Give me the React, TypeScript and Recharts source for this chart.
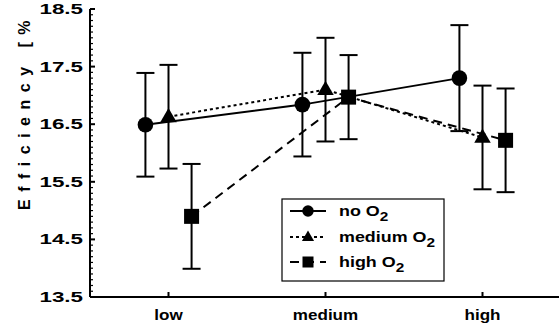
import React from 'react';
import { ComposedChart, Line, XAxis, YAxis, ErrorBar } from 'recharts';

const categories = ['low', 'medium', 'high'];
const noO2 = [16.49, 16.84, 17.3];
const noO2Err = [0.9, 0.9, 0.92];
const mediumO2 = [16.63, 17.1, 16.27];
const mediumO2Err = [0.9, 0.9, 0.9];
const highO2 = [14.9, 16.97, 16.22];
const highO2Err = [0.91, 0.73, 0.9];
const yTickLabels = [13.5, 14.5, 15.5, 16.5, 17.5, 18.5];
const yMinorTicks = Array.from({ length: 51 }, (_, i) => Math.round((13.5 + i * 0.1) * 10) / 10);
const xTicks = [1, 2, 3];
const yAxisTitle = 'Efficiency [%';

type Shape = 'circle' | 'triangle' | 'square';

const series = [
  { prefix: 'no', values: noO2, errs: noO2Err, offset: -0.147, dash: undefined as string | undefined, shape: 'circle' as Shape },
  { prefix: 'medium', values: mediumO2, errs: mediumO2Err, offset: 0, dash: '3 3', shape: 'triangle' as Shape },
  { prefix: 'high', values: highO2, errs: highO2Err, offset: 0.147, dash: '9 6', shape: 'square' as Shape },
];

const FONT = '"Liberation Sans", Arial, sans-serif';

function Marker({ cx, cy, shape, s }: { cx: number; cy: number; shape: Shape; s: number }) {
  if (cx == null || cy == null) return null;
  if (shape === 'circle') return <circle cx={cx} cy={cy} r={s * 0.52} fill="#000" />;
  if (shape === 'square')
    return <rect x={cx - s / 2} y={cy - s / 2} width={s} height={s} fill="#000" />;
  const h = s * 0.95;
  return (
    <polygon
      points={`${cx},${cy - h * 0.62} ${cx - s * 0.55},${cy + h * 0.38} ${cx + s * 0.55},${cy + h * 0.38}`}
      fill="#000"
    />
  );
}

const LeftTick = (props: any) => {
  const { x, y, payload } = props;
  const v = payload.value;
  const major = yTickLabels.some((t) => Math.abs(t - v) < 1e-6);
  return (
    <g>
      <line x1={x} x2={x + (major ? 5 : 3)} y1={y} y2={y} stroke="#000" strokeWidth={major ? 2 : 1.2} />
      {major && (
        <g transform={`translate(${x - 7},${y + 5}) scale(1.6,1)`}>
          <text x={0} y={0} textAnchor="end" fontFamily={FONT} fontSize={14} fontWeight="bold" fill="#000">
            {v.toFixed(1)}
          </text>
        </g>
      )}
    </g>
  );
};

const RightTick = (props: any) => {
  const { x, y } = props;
  return <line x1={x - 5} x2={x} y1={y} y2={y} stroke="#000" strokeWidth={2} />;
};

const BottomTick = (props: any) => {
  const { x, y, payload } = props;
  const label = categories[payload.value - 1];
  return (
    <g>
      <line x1={x} x2={x} y1={y} y2={y - 5} stroke="#000" strokeWidth={2} />
      <g transform={`translate(${x},${y + 23}) scale(1.22,1)`}>
        <text x={0} y={0} textAnchor="middle" fontFamily={FONT} fontSize={14} fontWeight="bold" fill="#000">
          {label}
        </text>
      </g>
    </g>
  );
};

const TopTick = (props: any) => {
  const { x, y } = props;
  return <line x1={x} x2={x} y1={y} y2={y + 5} stroke="#000" strokeWidth={2} />;
};

function LegendBox() {
  const rows = [13, 39, 64];
  return (
    <svg
      width={164}
      height={84}
      style={{ position: 'absolute', left: 281, top: 198, overflow: 'visible' }}
    >
      <rect x={1} y={1} width={162} height={82} fill="#fff" stroke="#000" strokeWidth={1.2} />
      {series.map((s, i) => (
        <g key={s.prefix}>
          <line x1={9} x2={45} y1={rows[i]} y2={rows[i]} stroke="#000" strokeWidth={2} strokeDasharray={s.dash} />
          <Marker cx={27} cy={rows[i]} shape={s.shape} s={11} />
          <g transform={`translate(58,${rows[i] + 5}) scale(1.28,1)`}>
            <text x={0} y={0} fontFamily={FONT} fontSize={14} fontWeight="bold" fill="#000">
              {s.prefix} O
              <tspan fontSize={12} dy={5}>2</tspan>
            </text>
          </g>
        </g>
      ))}
    </svg>
  );
}

export default function App() {
  return (
    <div
      style={{
        position: 'absolute',
        left: 0,
        top: 0,
        width: 559,
        height: 326,
        overflow: 'hidden',
        background: '#fff',
      }}
    >
      <ComposedChart width={600} height={326} margin={{ top: 9, right: 39, left: 0, bottom: 0 }}>
        <XAxis
          xAxisId="bottom"
          type="number"
          dataKey="x"
          domain={[0.5, 3.5]}
          ticks={xTicks}
          allowDataOverflow
          interval={0}
          tick={<BottomTick />}
          tickLine={false}
          tickSize={0}
          tickMargin={0}
          height={29}
          axisLine={{ stroke: '#000', strokeWidth: 2 }}
        />
        <XAxis
          xAxisId="top"
          orientation="top"
          type="number"
          dataKey="x"
          domain={[0.5, 3.5]}
          ticks={xTicks}
          allowDataOverflow
          interval={0}
          tick={<TopTick />}
          tickLine={false}
          tickSize={0}
          tickMargin={0}
          height={0}
          axisLine={{ stroke: '#000', strokeWidth: 2 }}
        />
        <YAxis
          yAxisId="left"
          type="number"
          domain={[13.5, 18.5]}
          ticks={yMinorTicks}
          interval={0}
          allowDataOverflow
          tick={<LeftTick />}
          tickLine={false}
          tickSize={0}
          tickMargin={0}
          width={90}
          axisLine={{ stroke: '#000', strokeWidth: 2 }}
        />
        <YAxis
          yAxisId="right"
          orientation="right"
          type="number"
          domain={[13.5, 18.5]}
          ticks={yTickLabels}
          interval={0}
          allowDataOverflow
          tick={<RightTick />}
          tickLine={false}
          tickSize={0}
          tickMargin={0}
          width={0}
          axisLine={{ stroke: '#000', strokeWidth: 2 }}
        />
        {series.map((s) => {
          const data = categories.map((c, i) => ({ cat: c, x: i + 1 + s.offset, y: s.values[i], err: s.errs[i] }));
          return (
            <Line
              key={s.prefix}
              data={data}
              dataKey="y"
              xAxisId="bottom"
              yAxisId="left"
              stroke="#000"
              strokeWidth={2}
              strokeDasharray={s.dash}
              isAnimationActive={false}
              dot={(p: any) => <Marker key={`${s.prefix}-${p.index}`} cx={p.cx} cy={p.cy} shape={s.shape} s={15} />}
              activeDot={false}
            >
              <ErrorBar dataKey="err" direction="y" width={9} stroke="#000" strokeWidth={2} isAnimationActive={false} />
            </Line>
          );
        })}
      </ComposedChart>
      <svg width={559} height={326} style={{ position: 'absolute', left: 0, top: 0, pointerEvents: 'none' }}>
        <text
          transform="translate(30,210) rotate(-90)"
          x={0}
          y={0}
          fontFamily={FONT}
          fontSize={16}
          fontWeight="bold"
          letterSpacing={7.5}
          fill="#000"
        >
          {yAxisTitle}
        </text>
      </svg>
      <LegendBox />
    </div>
  );
}
